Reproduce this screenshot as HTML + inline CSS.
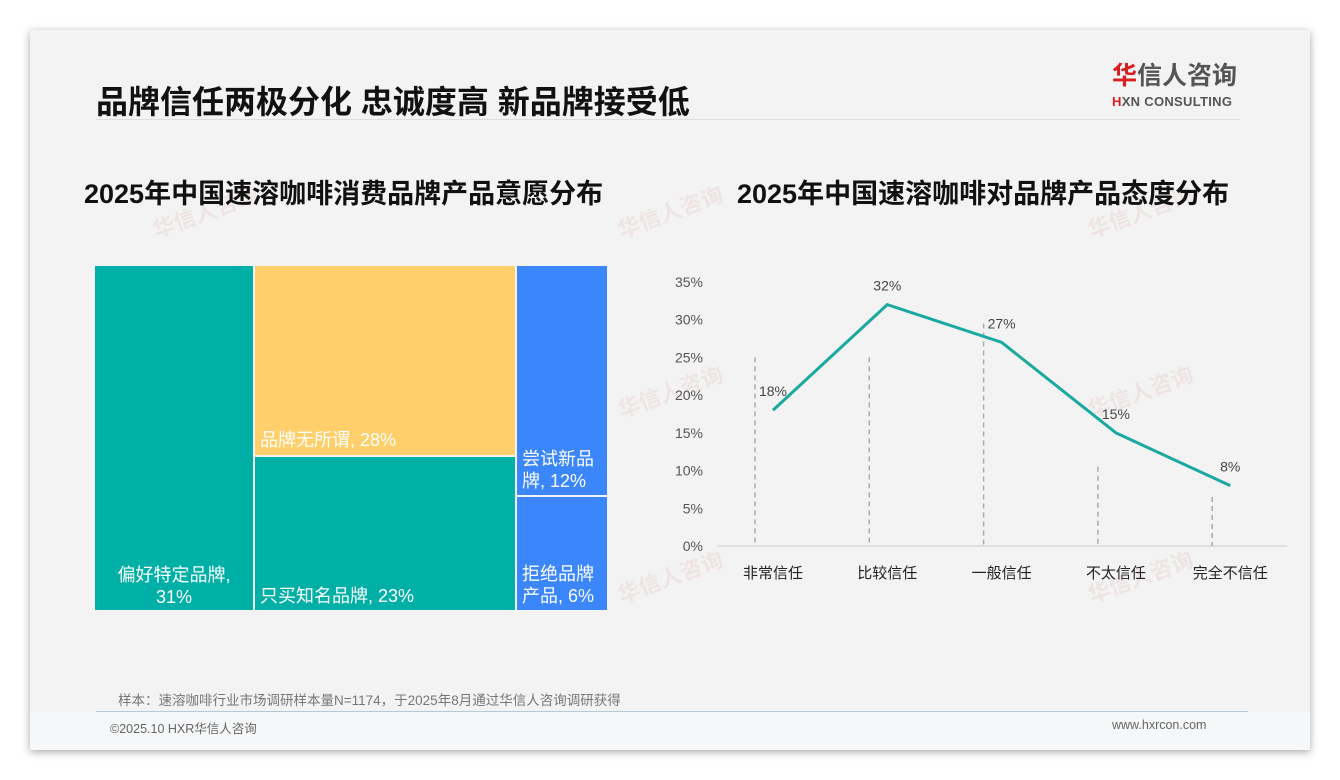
<!DOCTYPE html>
<html><head><meta charset="utf-8">
<style>
body{margin:0;width:1340px;height:780px;background:#fff;font-family:"Liberation Sans","Noto Sans CJK SC",sans-serif;position:relative;overflow:hidden}
.slide{position:absolute;left:30px;top:30px;width:1280px;height:720px;background:#f3f3f3;box-shadow:0 2px 8px rgba(0,0,0,0.35)}
.abs{position:absolute;white-space:nowrap}
.tm{position:absolute;color:#fff;font-size:18px;line-height:22px;box-sizing:border-box}
.wm{position:absolute;color:rgba(220,150,150,0.15);font-size:22px;font-weight:bold;transform:rotate(-20deg);white-space:nowrap}
</style></head><body>
<div class="slide"></div>
<div class="abs" style="left:30px;top:712px;width:1280px;height:38px;background:#f6f7f8"></div>
<div class="abs" style="left:96px;top:77px;font-size:32px;font-weight:bold;color:#111">品牌信任两极分化 忠诚度高 新品牌接受低</div>
<div class="abs" style="left:96px;top:119px;width:1144px;height:1px;background:#ddd"></div>
<div class="abs" style="left:1112px;top:62px;font-size:25px;font-weight:bold;color:#555;line-height:28px"><span style="color:#d81e1e">华</span>信人咨询</div>
<div class="abs" style="left:1112px;top:94px;font-size:13px;font-weight:bold;color:#555;letter-spacing:0.3px"><span style="color:#d81e1e">H</span>XN CONSULTING</div>

<div class="wm" style="left:150px;top:195px">华信人咨询</div>
<div class="wm" style="left:615px;top:195px">华信人咨询</div>
<div class="wm" style="left:1085px;top:195px">华信人咨询</div>
<div class="wm" style="left:615px;top:375px">华信人咨询</div>
<div class="wm" style="left:1085px;top:375px">华信人咨询</div>
<div class="wm" style="left:615px;top:560px">华信人咨询</div>
<div class="wm" style="left:1085px;top:560px">华信人咨询</div>

<div class="abs" style="left:84px;top:172px;font-size:27px;font-weight:bold;color:#111">2025年中国速溶咖啡消费品牌产品意愿分布</div>
<div class="abs" style="left:737px;top:172px;font-size:27px;font-weight:bold;color:#111">2025年中国速溶咖啡对品牌产品态度分布</div>

<div class="tm" style="left:95px;top:266px;width:158px;height:344px;background:#00b0a6;text-align:center"><div style="position:absolute;bottom:2px;left:0;width:158px">偏好特定品牌,<br>31%</div></div>
<div class="tm" style="left:255px;top:266px;width:260px;height:189px;background:#fecf6a"><div style="position:absolute;bottom:4px;left:5px">品牌无所谓, 28%</div></div>
<div class="tm" style="left:255px;top:457px;width:260px;height:153px;background:#00b0a6"><div style="position:absolute;bottom:3px;left:5px">只买知名品牌, 23%</div></div>
<div class="tm" style="left:517px;top:266px;width:90px;height:229px;background:#3b86fb"><div style="position:absolute;bottom:3px;left:5px">尝试新品<br>牌, 12%</div></div>
<div class="tm" style="left:517px;top:497px;width:90px;height:113px;background:#3b86fb"><div style="position:absolute;bottom:3px;left:5px">拒绝品牌<br>产品, 6%</div></div>

<svg class="abs" style="left:0;top:0" width="1340" height="780">
<g id="g"></g>
</svg>

<div class="abs" style="left:118px;top:689px;font-size:13.5px;color:#777">样本：速溶咖啡行业市场调研样本量N=1174，于2025年8月通过华信人咨询调研获得</div>
<div class="abs" style="left:96px;top:711px;width:1152px;height:1px;background:#b8c8d8"></div>
<div class="abs" style="left:110px;top:718px;font-size:12.5px;color:#666">©2025.10 HXR华信人咨询</div>
<div class="abs" style="left:1112px;top:718px;font-size:12.5px;color:#666">www.hxrcon.com</div>

<script>
const categories=["非常信任","比较信任","一般信任","不太信任","完全不信任"];
const values=[18,32,27,15,8];
const ticks=[0,5,10,15,20,25,30,35];
const dashTops=[25,25,29.5,10.5,6.5];
const NS="http://www.w3.org/2000/svg";
const g=document.getElementById('g');
const y0=546,pxPer=264/35,xStart=773,xStep=114.3;
const ys=v=>y0-v*pxPer, xs=i=>xStart+i*xStep;
function mk(t,a){const e=document.createElementNS(NS,t);for(const k in a)e.setAttribute(k,a[k]);g.appendChild(e);return e;}
let ax=mk('line',{x1:717,x2:1287,y1:y0,y2:y0,stroke:'#ccc','stroke-width':1});


ticks.forEach(t=>{const e=mk('text',{x:703,y:ys(t)+5,'text-anchor':'end','font-size':14,fill:'#555'});e.textContent=t+'%';

});
categories.forEach((c,i)=>{
const d=mk('line',{x1:xs(i)-18,x2:xs(i)-18,y1:ys(dashTops[i]),y2:y0,stroke:'#aaa','stroke-width':1.5,'stroke-dasharray':'5,4'});


const e=mk('text',{x:xs(i),y:578,'text-anchor':'middle','font-size':15,fill:'#222'});e.textContent=c;


});
const pl=mk('polyline',{points:values.map((v,i)=>xs(i)+','+ys(v)).join(' '),fill:'none',stroke:'#1aa9a0','stroke-width':3});


values.forEach((v,i)=>{const e=mk('text',{x:xs(i),y:ys(v)-14,'text-anchor':'middle','font-size':14,fill:'#444'});e.textContent=v+'%';

});
</script>
</body></html>
